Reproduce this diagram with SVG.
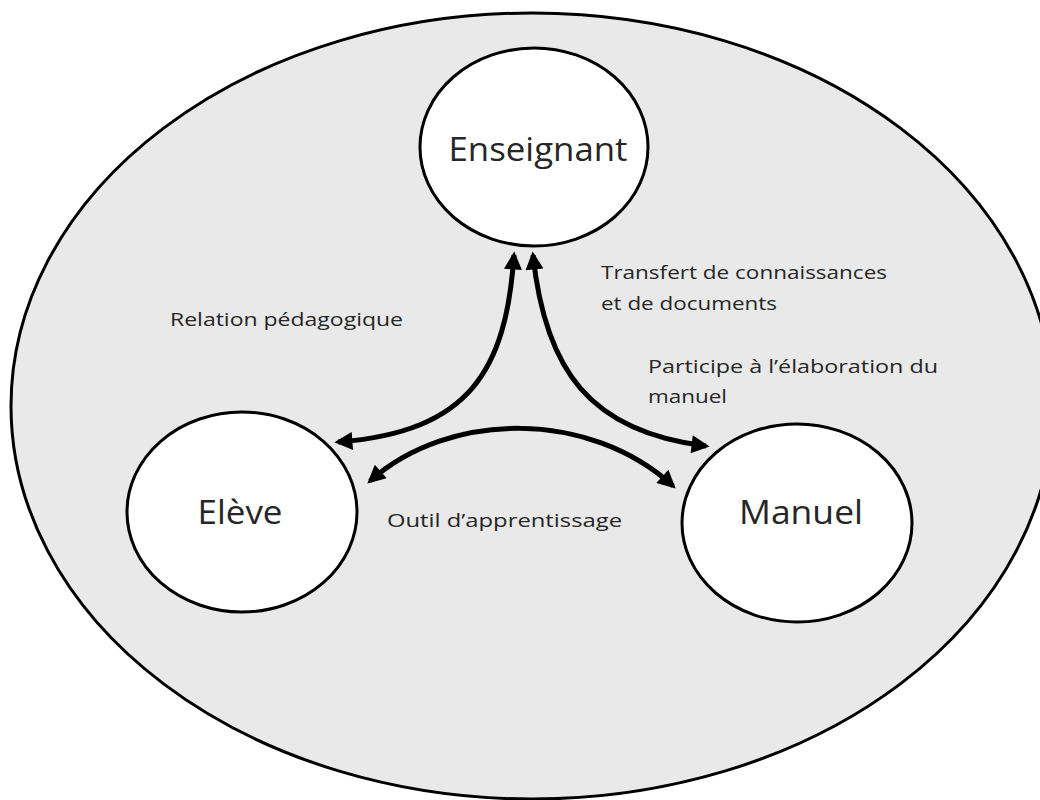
<svg xmlns="http://www.w3.org/2000/svg" width="1040" height="800" viewBox="0 0 1040 800">
<style>
.node{fill:#ffffff;stroke:#000;stroke-width:3}
.big{font-family:"Open Sans","Liberation Sans",sans-serif;font-size:32px;fill:#262626}
.lbl{font-family:"Open Sans","Liberation Sans",sans-serif;font-size:19px;fill:#262626}
.conn{fill:none;stroke:#000;stroke-width:5;marker-start:url(#ah);marker-end:url(#ah)}
</style>
<defs>
<marker id="ah" viewBox="0 0 10 10" refX="8" refY="5" markerWidth="4.4" markerHeight="3.6" orient="auto-start-reverse" markerUnits="strokeWidth">
<path d="M0,0 L10,5 L0,10 Z" fill="#000"/>
</marker>
</defs>
<rect x="0" y="0" width="1040" height="800" fill="#ffffff"/>
<g id="context">
<ellipse cx="532" cy="406" rx="521" ry="393" fill="#e9e9e9" stroke="#000" stroke-width="3"/>
</g>
<g id="connectors">
<path class="conn" d="M 514 255 C 506 370 470 432 338 442"/>
<path class="conn" d="M 533 255 C 545 370 590 432 706 446"/>
<path class="conn" d="M 370 481 C 450 410 590 410 673 486"/>
</g>
<g id="enseignant">
<ellipse class="node" cx="534" cy="147" rx="114" ry="99"/>
<text class="big" x="538" y="161" text-anchor="middle" textLength="179" lengthAdjust="spacingAndGlyphs">Enseignant</text>
</g>
<g id="eleve">
<ellipse class="node" cx="242" cy="512" rx="115" ry="100"/>
<text class="big" x="240" y="524" text-anchor="middle" textLength="85" lengthAdjust="spacingAndGlyphs">Elève</text>
</g>
<g id="manuel">
<ellipse class="node" cx="797" cy="523" rx="115" ry="99"/>
<text class="big" x="801" y="524" text-anchor="middle" textLength="124" lengthAdjust="spacingAndGlyphs">Manuel</text>
</g>
<g id="labels">
<text class="lbl" x="170" y="326" textLength="233" lengthAdjust="spacingAndGlyphs">Relation pédagogique</text>
<text class="lbl" x="601" y="279" textLength="286" lengthAdjust="spacingAndGlyphs">Transfert de connaissances</text>
<text class="lbl" x="601" y="310" textLength="176" lengthAdjust="spacingAndGlyphs">et de documents</text>
<text class="lbl" x="648" y="373" textLength="290" lengthAdjust="spacingAndGlyphs">Participe à l’élaboration du</text>
<text class="lbl" x="648" y="403" textLength="79" lengthAdjust="spacingAndGlyphs">manuel</text>
<text class="lbl" x="387" y="527" textLength="235" lengthAdjust="spacingAndGlyphs">Outil d’apprentissage</text>
</g>
</svg>
